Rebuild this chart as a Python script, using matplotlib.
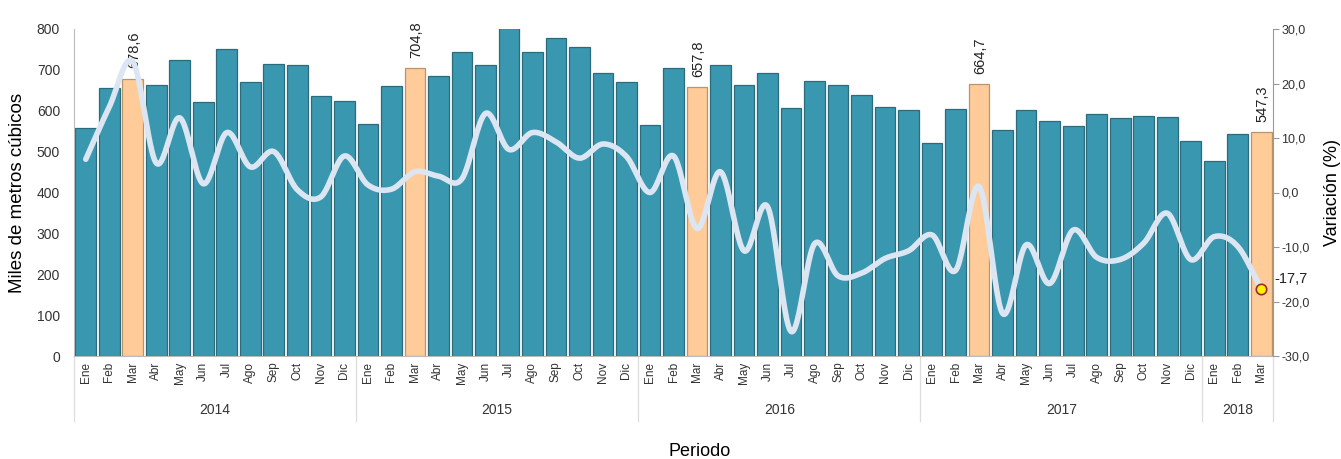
import numpy as np
import matplotlib
matplotlib.use("Agg")
import matplotlib.pyplot as plt
from matplotlib import transforms

# data
meses = ["Ene", "Feb", "Mar", "Abr", "May", "Jun", "Jul", "Ago", "Sep", "Oct", "Nov", "Dic"]
anios = ["2014", "2015", "2016", "2017", "2018"]
meses_por_anio = [12, 12, 12, 12, 3]

volumen = [558, 656, 678.6, 664, 723, 622, 751, 671, 715, 712, 636, 624,
           567, 660, 704.8, 685, 744, 712, 803, 744, 777, 756, 693, 671,
           566, 704, 657.8, 711, 664, 692, 606, 672, 662, 638, 608, 601,
           522, 604, 664.7, 553, 601, 575, 563, 591, 583, 586, 584, 527,
           477, 543, 547.3]

variacion = [6.1, 15.7, 24.0, 5.4, 13.7, 1.6, 11.0, 4.7, 7.5, 0.5, -0.8, 6.7,
             1.4, 0.6, 3.8, 3.0, 2.5, 14.5, 7.9, 11.0, 9.3, 6.3, 8.9, 6.6,
             0.0, 6.7, -6.6, 3.8, -10.7, -2.6, -25.5, -9.4, -15.3, -14.8, -12.1, -10.7,
             -7.8, -14.3, 1.1, -22.2, -9.6, -16.7, -6.9, -11.9, -12.3, -9.3, -3.8, -12.3,
             -8.1, -9.9, -17.7]

etiquetas = [meses[i] for n in meses_por_anio for i in range(n)]
x = np.arange(len(volumen))
resaltar = [i for i, m in enumerate(etiquetas) if m == "Mar"]


def suavizar(xs, ys, n=24):
    # Catmull-Rom, like the smoothed line in the original
    xs = np.asarray(xs, float)
    ys = np.asarray(ys, float)
    px = np.concatenate([[2 * xs[0] - xs[1]], xs, [2 * xs[-1] - xs[-2]]])
    py = np.concatenate([[2 * ys[0] - ys[1]], ys, [2 * ys[-1] - ys[-2]]])
    out_x, out_y = [], []
    t = np.linspace(0, 1, n, endpoint=False)
    for i in range(1, len(px) - 2):
        for arr, out in ((px, out_x), (py, out_y)):
            p0, p1, p2, p3 = arr[i - 1], arr[i], arr[i + 1], arr[i + 2]
            out.extend(0.5 * (2 * p1 + (-p0 + p2) * t + (2 * p0 - 5 * p1 + 4 * p2 - p3) * t ** 2
                              + (-p0 + 3 * p1 - 3 * p2 + p3) * t ** 3))
    out_x.append(xs[-1])
    out_y.append(ys[-1])
    return np.array(out_x), np.array(out_y)


narrow = ["Liberation Sans Narrow", "Liberation Sans", "DejaVu Sans"]
plt.rcParams["font.family"] = ["Liberation Sans", "DejaVu Sans"]

W, H = 1341, 459
fig = plt.figure(figsize=(W / 100, H / 100), dpi=100)
ax = fig.add_axes([74 / W, 1 - 356 / H, (1273 - 74) / W, (356 - 29) / H])

colores = ["#FFCC99" if i in resaltar else "#3A97B0" for i in x]
bordes = ["#B8946A" if i in resaltar else "#2C6B7C" for i in x]
ax.bar(x, volumen, width=0.88, color=colores, edgecolor=bordes, linewidth=0.9, zorder=2)

for i in resaltar:
    ax.text(x[i] + 0.05, volumen[i] + 25, f"{volumen[i]:.1f}".replace(".", ","),
            rotation=90, ha="center", va="bottom", fontsize=10.5, color="#222222")

ax.set_xlim(-0.5, len(volumen) - 0.5)
ax.set_ylim(0, 800)
ax.set_yticks(range(0, 801, 100))
ax.set_yticklabels([str(v) for v in range(0, 801, 100)], family=narrow, fontsize=10, color="#333333")
ax.set_xticks(x)
ax.set_xticklabels(etiquetas, rotation=90, fontsize=8.5, color="#333333")
ax.tick_params(axis="x", length=0, pad=4)
ax.tick_params(axis="y", length=0, pad=10)
for s in ["top", "right"]:
    ax.spines[s].set_visible(False)
ax.spines["left"].set_color("#BBBBBB")
ax.spines["bottom"].set_color("#BBBBBB")
ax.set_ylabel("Miles de metros cúbicos", fontsize=13.5)
ax.yaxis.set_label_coords(-0.040, 0.5)

# year groups under month labels
tr = transforms.blended_transform_factory(ax.transData, ax.transAxes)
inicio = -0.5
for anio, n in zip(anios, meses_por_anio):
    ax.text(inicio + n / 2, -0.165, anio, transform=tr, ha="center", va="center",
            family=narrow, fontsize=10, color="#333333")
    ax.plot([inicio, inicio], [0, -0.2], transform=tr, color="#DDDDDD", lw=0.9, clip_on=False)
    inicio += n
ax.plot([inicio, inicio], [0, -0.2], transform=tr, color="#DDDDDD", lw=0.9, clip_on=False)

fig.text(700 / W, 1 - 451 / H, "Periodo", ha="center", va="center", family=narrow, fontsize=13)

# variation line on right axis
ax2 = ax.twinx()
sx, sy = suavizar(x, variacion)
ax2.plot(sx, sy, color="#DCE6F2", lw=4, solid_capstyle="round", zorder=3)
ax2.plot(x[-1], variacion[-1], "o", ms=7.5, color="#FFF200", markeredgecolor="#A0282A",
         markeredgewidth=1.2, zorder=4)
ax2.text(x[-1] + 0.55, variacion[-1] + 1.8, f"{variacion[-1]:.1f}".replace(".", ","),
         fontsize=10.5, va="center", ha="left", color="#222222")
ax2.set_ylim(-30, 30)
ax2.set_yticks(range(-30, 31, 10))
ax2.set_yticklabels([f"{v:.1f}".replace(".", ",") for v in range(-30, 31, 10)],
                    family=narrow, fontsize=9, color="#333333")
ax2.tick_params(axis="y", length=4, color="#999999", pad=2)
for s in ["top", "left", "bottom"]:
    ax2.spines[s].set_visible(False)
ax2.spines["right"].set_color("#999999")
ax2.set_ylabel("Variación (%)", fontsize=13, rotation=90)
ax2.yaxis.set_label_coords(1.0425, 0.5)

fig.savefig("out.png", dpi=100)
